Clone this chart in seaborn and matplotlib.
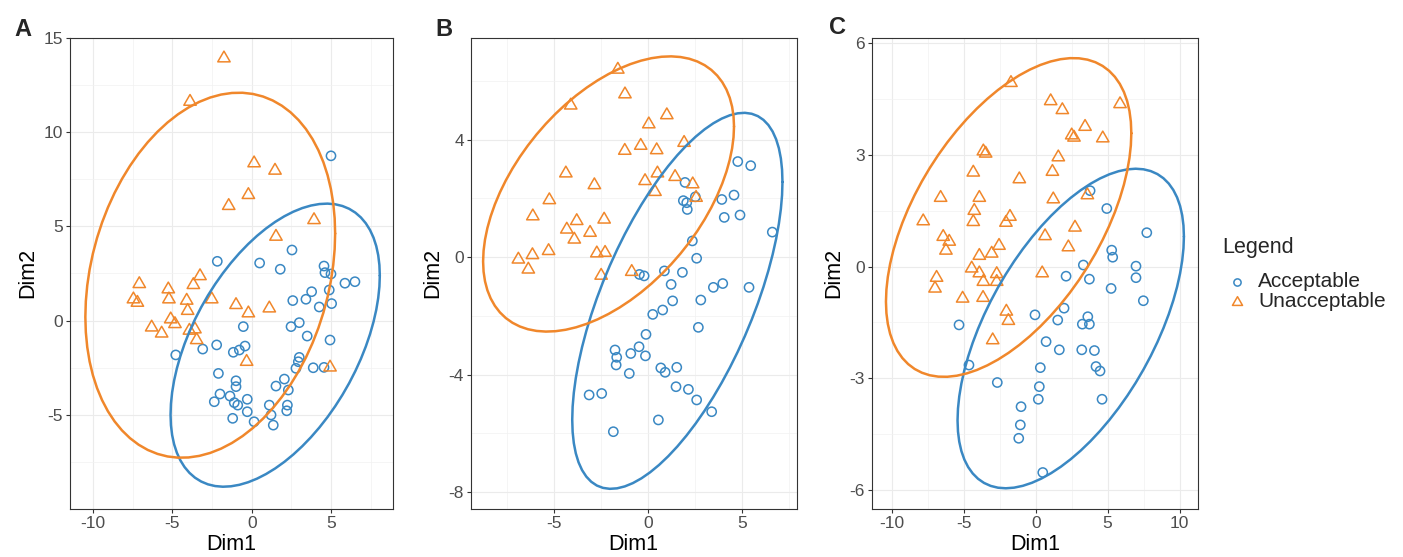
import numpy as np
import pandas as pd
import matplotlib
matplotlib.use("Agg")
import matplotlib.pyplot as plt
from matplotlib.markers import MarkerStyle
from matplotlib.path import Path
from matplotlib.lines import Line2D
import seaborn as sns

# ---- data: PCA scores (Dim1, Dim2) per group and panel ----
a_acc_x = [5.0, -2.17, 0.5, 2.54, 1.8, 4.56, 4.62, 5.0, 5.88, 6.51, 4.89, 3.78, 3.42, 2.59,
           5.04, 4.26, 3.0, 2.48, -0.53, 3.5, 4.94, -2.21, -3.09, -4.79, -1.16, -0.78, -0.42,
           3.0, 2.94, 2.79, 3.88, 4.56, -2.1, -0.99, -0.99, 2.06, 1.53, 2.31, -2.0, -1.37,
           -2.36, -1.1, -0.88, -0.28, 1.11, 2.25, 2.21, -0.28, 1.22, 1.36, -1.2, 0.15]
a_acc_y = [8.73, 3.14, 3.05, 3.74, 2.72, 2.89, 2.54, 2.47, 1.98, 2.06, 1.62, 1.53, 1.13, 1.06,
           0.9, 0.72, -0.11, -0.32, -0.32, -0.82, -1.03, -1.29, -1.51, -1.82, -1.68, -1.56, -1.35,
           -1.95, -2.18, -2.53, -2.5, -2.48, -2.8, -3.19, -3.5, -3.1, -3.47, -3.68, -3.89, -4.0,
           -4.3, -4.35, -4.48, -4.17, -4.48, -4.48, -4.78, -4.83, -5.0, -5.54, -5.18, -5.36]
a_una_x = [-1.75, -3.89, 0.15, 1.47, -0.21, -1.45, 3.93, 1.53, -7.09, -7.46, -7.21, -5.26,
           -5.22, -3.68, -3.26, -4.1, -4.04, -2.52, -0.99, -0.21, 1.11, -5.11, -4.84, -6.31,
           -5.68, -3.93, -3.58, -3.47, -0.32, 4.94]
a_una_y = [13.9, 11.6, 8.34, 7.95, 6.66, 6.08, 5.33, 4.45, 1.94, 1.13, 0.95, 1.66,
           1.13, 1.89, 2.36, 1.06, 0.52, 1.13, 0.83, 0.39, 0.65, 0.07, -0.18, -0.36,
           -0.68, -0.53, -0.46, -1.03, -2.18, -2.48]

b_acc_x = [4.78, 5.47, 1.97, 4.58, 3.93, 1.88, 2.06, 2.09, 2.52, 4.9, 4.06, 6.62, 2.36, 2.59,
           0.87, 1.83, -0.46, -0.21, 1.23, 3.48, 3.98, 5.38, 1.31, 2.81, 0.78, 0.25, 2.68,
           -0.11, -1.76, -0.48, -0.92, -0.14, -1.67, -1.7, -1.0, 0.68, 0.91, 1.53, 1.49, 2.15,
           2.59, 3.39, -3.14, -2.47, 0.55, -1.85]
b_acc_y = [3.25, 3.11, 2.54, 2.11, 1.96, 1.92, 1.85, 1.62, 2.05, 1.43, 1.35, 0.85, 0.55, -0.04,
           -0.47, -0.52, -0.59, -0.64, -0.93, -1.03, -0.9, -1.03, -1.49, -1.46, -1.8, -1.95, -2.39,
           -2.63, -3.16, -3.05, -3.28, -3.36, -3.41, -3.67, -3.96, -3.77, -3.92, -3.75, -4.41, -4.5,
           -4.86, -5.26, -4.69, -4.64, -5.54, -5.94]
b_una_x = [-1.61, -1.23, -4.12, 1.0, 0.04, -0.39, -1.24, 0.46, 1.92, -4.38, 0.5, 1.44, -0.16,
           -2.86, 2.38, 0.37, 2.56, -5.26, -6.14, -2.34, -3.8, -4.33, -3.09, -3.93, -5.3, -6.16,
           -2.73, -2.29, -6.91, -6.38, -2.5, -0.87]
b_una_y = [6.38, 5.54, 5.16, 4.83, 4.52, 3.79, 3.62, 3.64, 3.89, 2.85, 2.85, 2.73, 2.59,
           2.45, 2.48, 2.22, 2.02, 1.94, 1.39, 1.28, 1.23, 0.94, 0.83, 0.6, 0.21, 0.07,
           0.13, 0.15, -0.08, -0.42, -0.63, -0.5]

c_acc_x = [3.78, 4.94, 7.72, 5.28, 5.35, 3.31, 6.97, 2.11, 3.73, 6.97, 5.24, 7.48, 1.97, -0.05,
           1.53, 3.62, 3.24, 3.73, -5.33, 0.72, 1.64, 3.2, 4.08, -4.64, 0.32, 4.19, 4.47, -2.67,
           0.25, 0.18, 4.61, -1.02, -1.07, -1.18, 0.49]
c_acc_y = [2.04, 1.56, 0.91, 0.44, 0.25, 0.04, 0.01, -0.26, -0.34, -0.3, -0.59, -0.92, -1.12, -1.3,
           -1.44, -1.35, -1.55, -1.55, -1.57, -2.02, -2.24, -2.24, -2.26, -2.65, -2.72, -2.69, -2.81,
           -3.12, -3.23, -3.57, -3.57, -3.77, -4.26, -4.62, -5.54]
c_una_x = [-1.72, 1.04, 1.85, 5.86, 3.43, 2.5, 2.66, 4.66, -3.64, -3.48, 1.57, -4.34, 1.16,
           -1.14, -6.61, -3.92, 1.22, 3.59, -4.27, -1.79, -2.07, -7.82, -4.34, 2.73, -6.43,
           -6.01, -6.24, 0.65, -2.55, -3.06, -3.92, 2.27, -4.45, -3.92, -3.64, -2.71, -2.71,
           0.45, -6.89, -7.0, -5.08, -3.66, -2.04, -1.9, -2.99]
c_una_y = [4.94, 4.45, 4.21, 4.37, 3.76, 3.53, 3.47, 3.45, 3.1, 3.04, 2.94, 2.53, 2.55,
           2.35, 1.85, 1.85, 1.81, 1.92, 1.5, 1.34, 1.18, 1.22, 1.2, 1.05, 0.8,
           0.67, 0.43, 0.82, 0.56, 0.35, 0.29, 0.52, -0.05, -0.18, -0.41, -0.2, -0.41,
           -0.18, -0.3, -0.59, -0.86, -0.84, -1.21, -1.46, -1.98]

groups = ["Acceptable", "Unacceptable"]
panel_labels = ["A", "B", "C"]
x_label = "Dim1"
y_label = "Dim2"
legend_title = "Legend"

# axis breaks per panel
x_breaks = [[-10, -5, 0, 5], [-5, 0, 5], [-10, -5, 0, 5, 10]]
y_breaks = [[-5, 0, 5, 10, 15], [-8, -4, 0, 4], [-6, -3, 0, 3, 6]]

# ---- styling ----
palette = {"Acceptable": "#3A88C3", "Unacceptable": "#F0872B"}
tri = MarkerStyle(Path.unit_regular_polygon(3))
markers = {"Acceptable": "o", "Unacceptable": tri}
point_sizes = {"Acceptable": 44, "Unacceptable": 106}

sns.set_theme(style="whitegrid")
plt.rcParams["font.family"] = ["Liberation Sans", "DejaVu Sans"]
plt.rcParams["axes.unicode_minus"] = False


def make_frame(ax_, ay_, ux_, uy_):
    return pd.concat([
        pd.DataFrame({"Dim1": ax_, "Dim2": ay_, "Group": groups[0]}),
        pd.DataFrame({"Dim1": ux_, "Dim2": uy_, "Group": groups[1]}),
    ], ignore_index=True)


def ellipse_xy(xy, level=0.95, segments=72):
    """Normal concentration ellipse: mean, sample covariance, chi-square(2) radius."""
    center = xy.mean(axis=0)
    shape = np.cov(xy.T)
    radius = np.sqrt(-2.0 * np.log(1.0 - level))
    ang = np.linspace(0, 2 * np.pi, segments + 1)
    circ = np.column_stack([np.cos(ang), np.sin(ang)])
    chol = np.linalg.cholesky(shape).T
    pts = center + radius * circ @ chol
    return pts[:, 0], pts[:, 1]


def minor_between(breaks, lo, hi):
    step = breaks[1] - breaks[0]
    m = np.arange(breaks[0] - step / 2, breaks[-1] + step, step)
    return [v for v in m if lo < v < hi]


frames = [
    make_frame(a_acc_x, a_acc_y, a_una_x, a_una_y),
    make_frame(b_acc_x, b_acc_y, b_una_x, b_una_y),
    make_frame(c_acc_x, c_acc_y, c_una_x, c_una_y),
]

W, H = 1403, 557
fig = plt.figure(figsize=(W / 100, H / 100), dpi=100)

boxes = [(70, 393.3), (470.7, 796.7), (871.7, 1198.3)]
top_px, bot_px = 37.5, 509.3
xlims = [(-11.46, 8.93), (-9.45, 7.92), (-11.4, 11.3)]
ylims = [(-10.0, 15.0), (-8.58, 7.47), (-6.53, 6.16)]
letter_pos = [(23, 30), (444, 29), (838, 28)]
ylabel_pad = [4, 4, 4]

for i, df in enumerate(frames):
    l, r = boxes[i]
    ax = fig.add_axes([l / W, 1 - bot_px / H, (r - l) / W, (bot_px - top_px) / H])
    sns.scatterplot(data=df, x="Dim1", y="Dim2", hue="Group", style="Group",
                    size="Group", hue_order=groups, style_order=groups, size_order=groups,
                    palette=palette, markers=markers, sizes=point_sizes,
                    linewidth=1.1, legend=False, ax=ax, zorder=3)
    coll = ax.collections[-1]
    coll.set_edgecolors(coll.get_facecolors())
    coll.set_facecolors("none")

    for g in groups:
        sub = df[df["Group"] == g][["Dim1", "Dim2"]].to_numpy()
        ex, ey = ellipse_xy(sub)
        sns.lineplot(x=ex, y=ey, sort=False, color=palette[g], linewidth=1.8,
                     ax=ax, zorder=4, estimator=None)

    ax.set_xlim(*xlims[i])
    ax.set_ylim(*ylims[i])
    ax.set_xticks(x_breaks[i])
    ax.set_yticks(y_breaks[i])
    ax.set_xticks(minor_between(x_breaks[i], *xlims[i]), minor=True)
    ax.set_yticks(minor_between(y_breaks[i], *ylims[i]), minor=True)
    ax.grid(which="major", color="#EBEBEB", linewidth=0.8)
    ax.grid(which="minor", color="#F2F2F2", linewidth=0.5)
    ax.set_axisbelow(True)
    ax.set_facecolor("white")
    for s in ax.spines.values():
        s.set_color("#333333")
        s.set_linewidth(0.8)
    ax.tick_params(which="major", length=3, width=0.8, color="#333333",
                   labelsize=12.5, labelcolor="#4D4D4D", pad=2, bottom=True, left=True)
    ax.tick_params(which="minor", length=0)
    ax.set_xlabel(x_label, fontsize=15.5, color="black", labelpad=2)
    ax.set_ylabel(y_label, fontsize=15.5, color="black", labelpad=ylabel_pad[i])

    lx, ly = letter_pos[i]
    fig.text(lx / W, 1 - ly / H, panel_labels[i], fontsize=17, fontweight="bold",
             ha="center", va="center")

# legend, laid out by hand to keep the tight row spacing
fig.text(1222 / W, 1 - 248 / H, legend_title, fontsize=15.5, ha="left", va="center")
legend_rows = [281.5, 301.5]
legend_markers = [("o", 5.2), (tri, 8.4)]
for g, ypix, (mk, ms) in zip(groups, legend_rows, legend_markers):
    fig.add_artist(Line2D([1237 / W], [1 - ypix / H], transform=fig.transFigure,
                          linestyle="none", marker=mk, markersize=ms,
                          markerfacecolor="none", markeredgecolor=palette[g],
                          markeredgewidth=1.1))
    fig.text(1258 / W, 1 - ypix / H, g, fontsize=15, ha="left", va="center")

fig.savefig("out.png", dpi=100)
